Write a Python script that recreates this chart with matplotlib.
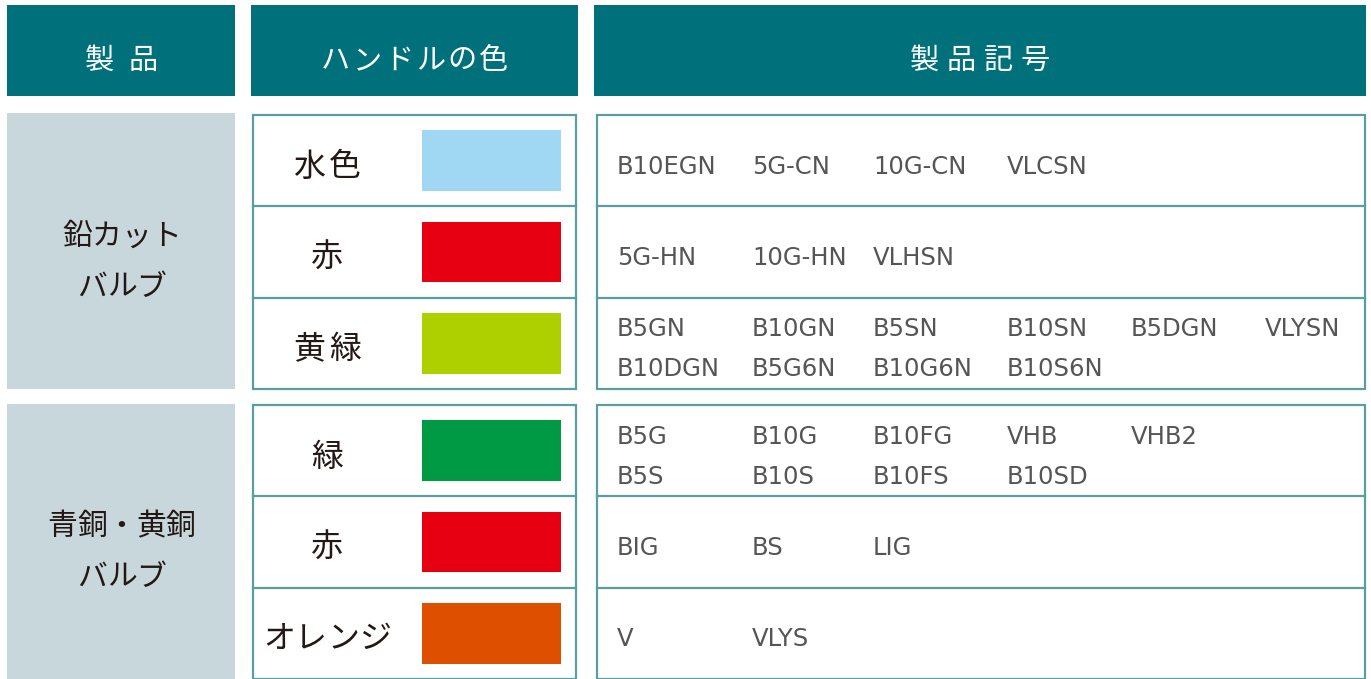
import matplotlib
matplotlib.use("Agg")
import matplotlib.pyplot as plt
from matplotlib.patches import Rectangle

# ---------------- data ----------------
headers = ["製 品", "ハンドルの色", "製品記号"]
products = [["鉛カット", "バルブ"], ["青銅・黄銅", "バルブ"]]
color_names = [["水色", "赤", "黄緑"], ["緑", "赤", "オレンジ"]]
color_values = [["#A0D8F4", "#E60012", "#AECF00"], ["#009A44", "#E60012", "#DE4F00"]]
codes = [
    [
        [["B10EGN", "5G-CN", "10G-CN", "VLCSN"]],
        [["5G-HN", "10G-HN", "VLHSN"]],
        [["B5GN", "B10GN", "B5SN", "B10SN", "B5DGN", "VLYSN"],
         ["B10DGN", "B5G6N", "B10G6N", "B10S6N"]],
    ],
    [
        [["B5G", "B10G", "B10FG", "VHB", "VHB2"],
         ["B5S", "B10S", "B10FS", "B10SD"]],
        [["BIG", "BS", "LIG"]],
        [["V", "VLYS"]],
    ],
]

# ---------------- layout / style ----------------
W, H = 1371, 679
TEAL = "#00717A"
GRAY = "#C7D7DC"
BORDER = "#5A9DA3"
DARK = "#231815"
CODE_C = "#555555"
JP = ["Noto Sans CJK JP", "DejaVu Sans"]

head_cols = [(7, 235), (251, 578), (594, 1366)]
head_y = (5, 96)
prod_x = (7, 235)
color_x = (253, 576)
code_x = (597, 1365)
gray_tops = [113, 404]
box_tops = [115, 405]
row_h = 91.3
swatch_x = (422, 561)
swatch_h = 60.5
code_cols = [617, 752, 873, 1007, 1131, 1265]

fig = plt.figure(figsize=(W / 100, H / 100), dpi=100)
ax = fig.add_axes([0, 0, 1, 1])
ax.set_xlim(0, W)
ax.set_ylim(H, 0)
ax.axis("off")


def spaced(x, y, text, pitch, **kw):
    n = len(text)
    for i, ch in enumerate(text):
        if ch == " ":
            continue
        ax.text(x + (i - (n - 1) / 2) * pitch, y, ch, ha="center", va="center",
                family=JP, **kw)


# headers
head_pitch = [22, 31.5, 37]
for (x0, x1), t, p in zip(head_cols, headers, head_pitch):
    ax.add_patch(Rectangle((x0, head_y[0]), x1 - x0, head_y[1] - head_y[0],
                           facecolor=TEAL, edgecolor="none"))
    spaced((x0 + x1) / 2, 61, t, p, fontsize=21, color="white")

for g in range(2):
    # product gray block
    gt = gray_tops[g]
    ax.add_patch(Rectangle((prod_x[0], gt), prod_x[1] - prod_x[0], 3 * row_h + 2,
                           facecolor=GRAY, edgecolor="none"))
    bt = box_tops[g]
    mid = bt + 1.5 * row_h
    for k, line in enumerate(products[g]):
        spaced(121.5, mid - 15 + k * 50, line, 29.5, fontsize=21.5, color=DARK)

    # outer boxes
    for (x0, x1) in (color_x, code_x):
        ax.add_patch(Rectangle((x0, bt), x1 - x0, 3 * row_h, facecolor="white",
                               edgecolor=BORDER, lw=1.6))
        for r in (1, 2):
            ax.plot([x0, x1], [bt + r * row_h] * 2, color=BORDER, lw=1.6)

    for r in range(3):
        top = bt + r * row_h
        cy = top + row_h / 2
        name = color_names[g][r]
        pitch = 36 if len(name) <= 2 else 32
        spaced(327, cy + 6, name, pitch, fontsize=23, color=DARK)
        ax.add_patch(Rectangle((swatch_x[0], cy - swatch_h / 2),
                               swatch_x[1] - swatch_x[0], swatch_h,
                               facecolor=color_values[g][r], edgecolor="none"))
        lines = codes[g][r]
        nl = len(lines)
        for li, line in enumerate(lines):
            ty = cy + 6 + (li - (nl - 1) / 2) * 40
            for ci, c in enumerate(line):
                ax.text(code_cols[ci], ty, c, ha="left", va="center",
                        fontsize=17.5, color=CODE_C, family="DejaVu Sans")

fig.savefig("out.png", dpi=100, facecolor="white")
